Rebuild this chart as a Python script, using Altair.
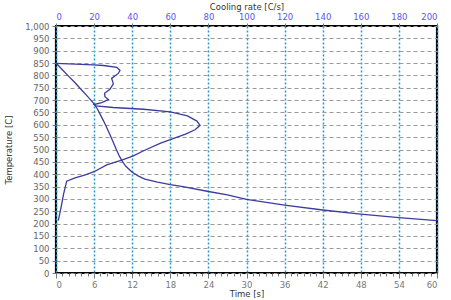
import altair as alt
import pandas as pd

# Temperature vs time
time_s = [0, 1, 2, 3, 4, 5, 6, 6.5, 7, 7.5, 8, 8.5, 9, 9.5, 10, 10.5, 11, 12, 13, 14, 16, 18, 20, 24, 27, 30, 36, 42, 48, 54, 60]
temp_time = [850, 823, 796, 770, 742, 714, 685, 665, 640, 615, 588, 560, 530, 500, 472, 450, 432, 408, 392, 380, 368, 358, 350, 330, 316, 298, 275, 255, 238, 224, 212]

# Temperature vs cooling rate (path order)
rate = [1.2, 2.5, 4, 5.6, 10, 15, 20, 26.6, 34.5, 40.6, 46, 54.6, 60, 68, 73, 75.6, 74, 69, 60, 46, 30, 21, 20,
        24, 27.5, 25.7, 25.5, 28.3, 30.1, 29.2, 32.7, 33.6, 31.9, 25, 19.6, 10, 0]
temp_rate = [212, 260, 320, 372, 385, 396, 410, 438, 457, 474, 495, 525, 540, 562, 580, 598, 615, 636, 652, 663, 670, 677, 682,
             690, 702, 714, 728, 744, 766, 788, 808, 820, 833, 840, 843, 846, 849]

time_ticks = list(range(0, 61, 1))
rate_ticks = list(range(0, 201, 20))
temp_ticks = list(range(0, 1001, 50))

df_t = pd.DataFrame({"time": time_s, "temp": temp_time, "i": range(len(time_s))})
df_r = pd.DataFrame({"rate": rate, "temp": temp_rate, "i": range(len(rate))})

FONT = "DejaVu Sans"
LINE = "#3c3c9e"

y_enc = alt.Y("temp:Q", scale=alt.Scale(domain=[0, 1000], nice=False),
              axis=alt.Axis(title="Temperature [C]", values=temp_ticks, format=",d",
                            grid=True, gridColor="#9a9a9a", gridDash=[4, 3], gridWidth=1.2,
                            tickSize=4, tickColor="#777", labelPadding=3,
                            labelColor="#666", labelFont=FONT, labelFontSize=8.5,
                            titleFont=FONT, titleFontSize=8.5, titleFontWeight="normal",
                            titleColor="#333", titlePadding=11, domain=False))

time_layer = alt.Chart(df_t).mark_line(color=LINE, strokeWidth=1.3).encode(
    x=alt.X("time:Q", scale=alt.Scale(domain=[0, 60], nice=False),
            axis=alt.Axis(orient="bottom", title="Time [s]", values=time_ticks,
                          labelExpr="datum.value % 6 === 0 ? datum.label : ''",
                          grid=True, gridColor="#1e9bd7", gridDash=[2, 2], gridWidth=1.5,
                          gridOpacity={"condition": {"test": "datum.value % 6 === 0", "value": 1}, "value": 0},
                          tickSize={"condition": {"test": "datum.value % 6 === 0", "value": 5}, "value": 3},
                          tickColor="#777", labelPadding=2,
                          labelColor="#777", labelFont=FONT, labelFontSize=8.5,
                          titleFont=FONT, titleFontSize=8.5, titleFontWeight="normal",
                          titleColor="#333", titlePadding=1, domain=False)),
    y=y_enc,
    order="i:Q",
)

rate_layer = alt.Chart(df_r).mark_line(color=LINE, strokeWidth=1.3).encode(
    x=alt.X("rate:Q", scale=alt.Scale(domain=[0, 200], nice=False),
            axis=alt.Axis(orient="top", title="Cooling rate [C/s]", values=rate_ticks,
                          grid=False, tickSize=3, tickColor="#777", labelPadding=2,
                          labelColor="#5a55f0", labelFont=FONT, labelFontSize=8.5,
                          titleFont=FONT, titleFontSize=8.5, titleFontWeight="normal",
                          titleColor="#333", titlePadding=1, domain=False)),
    y=y_enc,
    order="i:Q",
)

chart = alt.layer(time_layer, rate_layer).resolve_scale(x="independent").properties(
    width=381, height=247,
    autosize=alt.AutoSizeParams(type="none"),
    padding={"left": 56, "top": 26, "right": 14, "bottom": 27},
    background="white",
).configure_view(stroke="black", strokeWidth=2.2)

chart.save("out.html", embed_options={"renderer": "svg", "actions": False})
